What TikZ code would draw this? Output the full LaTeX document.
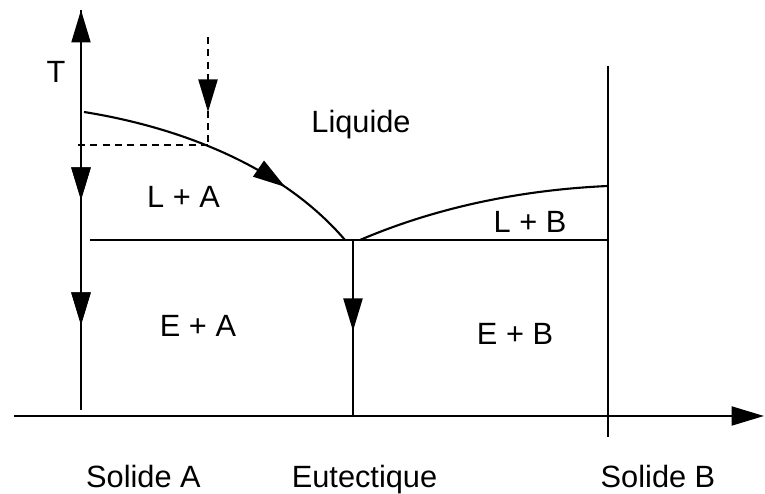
\documentclass[tikz,border=0pt]{standalone}
\usepackage{fontspec}
\setmainfont{Liberation Sans}
\usetikzlibrary{arrows.meta, decorations.markings}

\begin{document}
\begin{tikzpicture}[line width=1.2pt, >={Triangle[length=6.5mm, width=3.8mm]},
        every node/.style={font=\fontsize{17.5}{21}\selectfont, inner sep=0pt, anchor=base},
        dashedline/.style={dash pattern=on 4pt off 3pt},
        tipat/.style={postaction={decorate}, decoration={markings,
            mark=at position #1 with {\arrow{>}}}}]
      \useasboundingbox (0,0) rectangle (15.3,9.88);
      \coordinate (axtop) at (1.62,9.68);
      \coordinate (axbot) at (1.62,1.68);
      \coordinate (liqA) at (1.68,7.64);
      \coordinate (cross) at (4.16,6.98);
      \coordinate (eutL) at (6.9,5.08);
      \coordinate (eutR) at (7.2,5.08);
      \coordinate (eut) at (7.06,5.08);
      \coordinate (eutbot) at (7.06,1.56);
      \coordinate (liqB) at (12.16,6.16);
      \coordinate (Btop) at (12.16,8.56);
      \coordinate (Bbot) at (12.16,1.14);
      \coordinate (xstart) at (0.28,1.56);
      \coordinate (xend) at (15.28,1.56);
      \draw[->] (axbot) -- (axtop);
      \draw[tipat=3.8cm, tipat=6.3cm] (axtop) -- (axbot);
      \draw[->] (xstart) -- (xend);
      \draw (Btop) -- (Bbot);
      \draw (1.8,5.08) -- (Btop |- eut);
      \draw[tipat=0.73] (liqA) .. controls (3.5,7.35) and (5.6,6.6) .. (eutL);
      \draw (eutR) .. controls (9,5.85) and (10.8,6.1) .. (liqB);
      \draw[tipat=1.82cm] (eut) -- (eutbot);
      \draw[dashedline] (1.56,6.98) -- (cross);
      \draw[dashedline, tipat=1.5cm] (4.16,9.14) -- (cross);
      \node (T) at (1.12,8.22) {T};
      \node (liq) at (7.22,7.22) {Liquide};
      \node (LA) at (3.67,5.72) {L + A};
      \node (LB) at (10.6,5.22) {L + B};
      \node (EA) at (3.96,3.14) {E + A};
      \node (EB) at (10.3,2.98) {E + B};
      \node (solA) at (2.87,0.12) {Solide A};
      \node (eutec) at (7.29,0.12) {Eutectique};
      \node (solB) at (13.16,0.12) {Solide B};
    \end{tikzpicture}
\end{document}
